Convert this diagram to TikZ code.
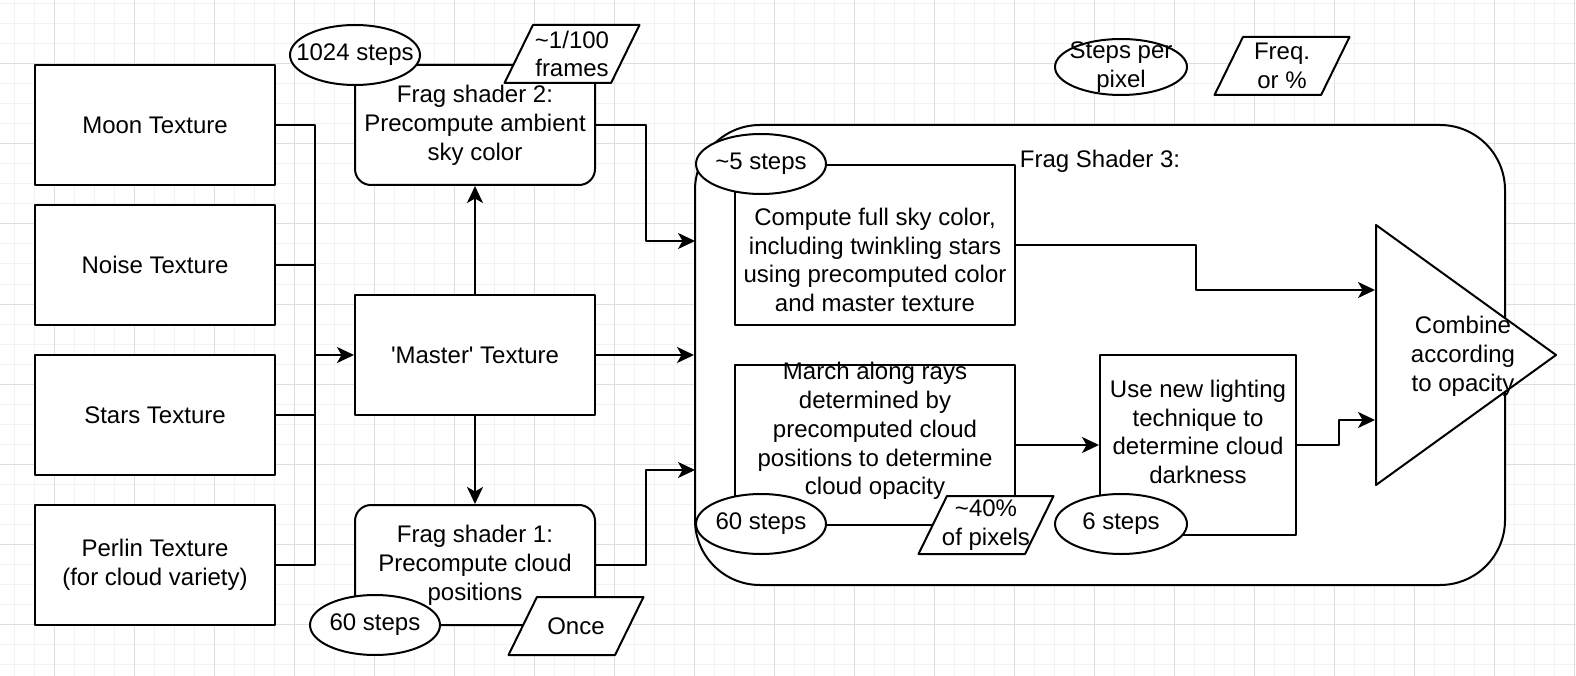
\documentclass[tikz,border=0pt]{standalone}
\usepackage{fontspec}
\setmainfont{Liberation Sans}
\usetikzlibrary{arrows.meta,shapes.geometric}
\definecolor{gridminor}{HTML}{F2F2F2}
\definecolor{gridmajor}{HTML}{DEDEDE}
\tikzset{
  every picture/.style={
    line join=round,
    >={Stealth[length=17pt,width=16pt,inset=4.5pt]},   % drawio-like block tip
  },
  every node/.style={font=\fontsize{24}{28.8}\selectfont},
  every label/.style={align=center, inner sep=0pt},
  tex/.style={draw, fill=white, align=center, minimum width=240pt, minimum height=120pt},
  stage/.style={draw, fill=white, minimum width=280pt, minimum height=160pt},
  steps/.style={ellipse, draw, fill=white, inner sep=0pt, minimum width=130pt, minimum height=60pt},
  freq/.style={trapezium, trapezium left angle=70, trapezium right angle=110,
    trapezium stretches=true, draw, fill=white, inner sep=1pt,
    minimum width=135pt, minimum height=58pt},
}
\begin{document}
\begin{tikzpicture}[x=1pt, y=-1pt, line width=2pt]
% canvas and grid
\fill[white] (0,0) rectangle (1576,676);
\useasboundingbox (0,0) rectangle (1576,676);
\foreach \gx in {14,34,...,1574} \draw[gridminor, line width=1pt] (\gx,0) -- (\gx,676);
\foreach \gy in {4,24,...,664} \draw[gridminor, line width=1pt] (0,\gy) -- (1576,\gy);
\foreach \gx in {54,134,...,1574} \draw[gridmajor, line width=1pt] (\gx,0) -- (\gx,676);
\foreach \gy in {64,144,...,624} \draw[gridmajor, line width=1pt] (0,\gy) -- (1576,\gy);

% input textures
\node[tex] (moon) at (155,125) {Moon Texture};
\node[tex] (noise) at (155,265) {Noise Texture};
\node[tex] (stars) at (155,415) {Stars Texture};
\node[tex] (perlin) at (155,565) {Perlin Texture\\(for cloud variety)};
\node[tex] (master) at (475,355) {\textquotesingle Master\textquotesingle\ Texture};
\node[tex, rounded corners=16pt] (frag2) at (475,125) {Frag shader 2:\\Precompute ambient\\sky color};
\node[tex, rounded corners=16pt] (frag1) at (475,565) {Frag shader 1:\\Precompute cloud\\positions};

% frag shader 3
\node[draw, fill=white, rounded corners=65pt, minimum width=810pt, minimum height=460pt] (fs3) at (1100,355) {};
\node (fs3lbl) at (1100,161) {Frag Shader 3:};
\node[stage, label={[yshift=-15pt]center:{Compute full sky color,\\including twinkling stars\\using precomputed color\\and master texture}}] (sky) at (875,245) {};
\node[stage, label={[yshift=14pt]center:{March along rays\\determined by\\precomputed cloud\\positions to determine\\cloud opacity}}] (march) at (875,445) {};
\node[stage, minimum width=196pt, minimum height=180pt, label={[yshift=13pt]center:{Use new lighting\\technique to\\determine cloud\\darkness}}] (light) at (1198,445) {};
\node[isosceles triangle, isosceles triangle stretches, draw, fill=white, inner sep=1pt,
  minimum width=260pt, minimum height=180pt, anchor=lower side] (comb) at (1375,355) {};
\node[align=center] (combtxt) at (1463,356) {Combine\\according\\to opacity};

% steps per pixel
\node[steps, label=center:1024 steps] (s2) at (355,55) {};
\node[steps, label=center:60 steps] (s1) at (375,625) {};
\node[steps, label=center:\textasciitilde5 steps] (s3a) at (761,164) {};
\node[steps, label=center:60 steps] (s3b) at (761,524) {};
\node[steps, minimum width=132pt, label=center:6 steps] (s3c) at (1121,524) {};
\node[steps, minimum width=132pt, minimum height=56pt, label=center:{Steps per\\pixel}] (keysteps) at (1121,67) {};

% frequencies
\node[freq, label=center:{\textasciitilde1/100\\frames}] (f2) at (572,54) {};
\node[freq, label=center:Once] (f1) at (576,626) {};
\node[freq, label=center:{\textasciitilde40\%\\of pixels}] (f3) at (986,525) {};
\node[freq, label=center:{Freq.\\or \%}] (keyfreq) at (1282,66) {};

% connectors
\coordinate (bus) at (315,355);
\coordinate (in2) at (695,241);
\coordinate (in1) at (695,470);
\foreach \src in {moon,noise,stars,perlin} \draw (\src.east) -| (bus);
\draw[->] (bus) -- (master.west);
\draw[->] (master.north) -- (frag2.south);
\draw[->] (master.south) -- (frag1.north);
\draw[->] (master.east) -- (master.east -| fs3.west);
\draw[->] (frag2.east) -- ++(50,0) |- (in2);
\draw[->] (frag1.east) -- ++(50,0) |- (in1);
\draw[->] (sky.east) -- ++(180,0) |- ([yshift=65pt]comb.lower side);
\draw[->] (march.east) -- (light.west);
\draw[->] (light.east) -- ++(42,0) |- ([yshift=-65pt]comb.lower side);
\end{tikzpicture}
\end{document}
